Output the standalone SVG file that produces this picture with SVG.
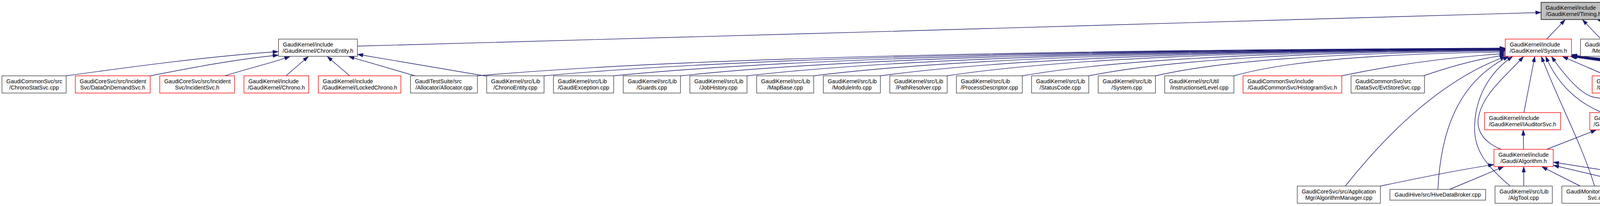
<svg xmlns="http://www.w3.org/2000/svg" width="7590" height="527" viewBox="0 0 7590 527">
<defs>
<style>
.n rect{fill:#ffffff;stroke:#404040;stroke-width:1.4}
.n.r rect{stroke:#ff0000}
.n.root rect{fill:#bfbfbf;stroke:#000000}
text{font-family:"Liberation Sans",Arial,Helvetica,sans-serif;font-size:14.3px;fill:#000000}
.m{text-anchor:middle}
#edges path{fill:none;stroke:#191970;stroke-width:1.4}
</style>
<marker id="ah" markerUnits="userSpaceOnUse" viewBox="0 0 14 10" refX="14" refY="5" markerWidth="14" markerHeight="10" orient="auto"><path d="M0.5,0.5 L14,5 L0.5,9.5 Z" fill="#191970" stroke="#191970" stroke-width="1"/></marker>
</defs>
<rect x="0" y="0" width="7590" height="527" fill="#ffffff"/>
<g id="edges" marker-end="url(#ah)">
<path d="M915.6,118 C1900,95 3000,55 3944.6,32"/>
<path d="M169.4,194 C348.8,169.2 533.6,144.4 712.2,132"/>
<path d="M384.5,194 C492.9,172.8 604.6,151.6 712.2,141"/>
<path d="M575.5,194 C625,178 700,160 742,144.7"/>
<path d="M732,194 L789,144.7"/>
<path d="M895.3,194 L838,144.7"/>
<path d="M1062.7,194 L893,144.7"/>
<path d="M1246,195 L915.6,139"/>
<path d="M3959.6,100 L4006.5,50.7"/>
<path d="M4098.4,100 L4051.4,50.7"/>
<path d="M4229,100 L4090.2,50.7"/>
<path d="M1222.2,194 C1748.3,147.85 2669,128 3852.8,123"/>
<path d="M1392.7,194 C1884.7,148.2 2745.7,128.4 3852.8,123.5"/>
<path d="M1571,194 C2027.4,148.5 2826,128.9 3852.8,124"/>
<path d="M1742,194 C2164.2,148.8 2903,129.4 3852.8,124.5"/>
<path d="M1912.4,194 C2300.5,149.15 2979.6,129.8 3852.8,125"/>
<path d="M2083,194 C2437,149.5 3056.4,130.3 3852.8,125.5"/>
<path d="M2253.7,194 C2573.5,149.8 3133.2,130.8 3852.8,126"/>
<path d="M2424.7,194 C2710.3,150.1 3210.2,131.2 3852.8,126.5"/>
<path d="M2617.1,194 C2864.2,150.45 3296.7,131.7 3852.8,127"/>
<path d="M2787.3,194 C3000.4,151.1 3373.3,132.6 3852.8,128"/>
<path d="M2958,194 C3137,152.4 3450.1,134.5 3852.8,130"/>
<path d="M3158.8,194 C3297.6,154.35 3540.5,137.3 3852.8,133"/>
<path d="M3434.9,194 C3559.6,167.6 3699.5,146.8 3852.8,137"/>
<path d="M3644,194 C3709.8,171.2 3780.4,150.9 3852.8,141"/>
<path d="M3444,476 C3560,330 3700,200 3854,144.7"/>
<path d="M3681,484.5 C3688,340 3730,210 3862,144.7"/>
<path d="M3866,476 C3800,420 3772,380 3775,320 C3778,240 3820,180 3872,144.7"/>
<path d="M3843,382 C3800,365 3778,335 3785,300 C3795,240 3860,190 3900,144.7"/>
<path d="M3901.2,288 L3929,144.7"/>
<path d="M4082,476 C4050,370 3990,260 3946,144.7"/>
<path d="M4101,288 C4040,262 3990,220 3957,144.7"/>
<path d="M4286,476 C4292,400 4285,300 4229,265 C4200,250 4120,260 4074,247 C4040,235 4000,185 3972,144.7"/>
<path d="M4114.7,194 L4000.4,144.7"/>
<path d="M4418,288 C4350,230 4300,175 4150,158 C4080,150 4040,146 4023.7,143"/>
<path d="M4498,476 C4560,410 4610,350 4595,300 C4580,250 4520,245 4460,254 C4400,262 4350,235 4300,200 C4230,160 4100,150 4023.7,144.2"/>
<path d="M4383.3,194 C4300,182 4150,165 4021,144.7"/>
<path d="M4619.8,194 C4560,178 4300,176 4023.7,144"/>
<path d="M4855.7,194 C4760,172 4350,178 4023.7,143.6"/>
<path d="M5091.8,194 C4992,174 4842,166 4592,166 C4400,166 4200,178 4023.7,143.3"/>
<path d="M5325.3,194 C5225,172 5075,165 4825,165 C4424,165 4200,180 4023.7,143"/>
<path d="M5559.2,194 C5459,172 5309,164 5059,164 C4541,164 4200,180 4023.7,142.6"/>
<path d="M5780.3,194 C5680,172 5530,163 5280,163 C4651.5,163 4200,180 4023.7,142.3"/>
<path d="M6021.1,194 C5921,172 5771,162 5521,162 C4772,162 4200,180 4023.7,142"/>
<path d="M6279.1,194 C6179,172 6029,161 5779,161 C4901,161 4200,180 4023.7,141.6"/>
<path d="M6493.3,194 C6393,172 6243,160.5 5993,160.5 C5008,160.5 4200,180 4023.7,141.3"/>
<path d="M6718.6,194 C6619,172 6469,160 6219,160 C5121,160 4200,180 4023.7,141"/>
<path d="M6890.4,194 C6790,172 6640,159.5 6390,159.5 C5206.5,159.5 4200,180 4023.7,140.6"/>
<path d="M7096.9,194 C6997,172 6847,159 6597,159 C5310,159 4200,180 4023.7,140.3"/>
<path d="M7267.6,194 C7168,172 7018,158 6768,158 C5395.5,158 4200,180 4023.7,140"/>
<path d="M7438.1,194 C7338,172 7188,157 6938,157 C5480.5,157 4200,180 4023.7,139.5"/>
<path d="M4159.6,288 L4163.7,238.7"/>
<path d="M4400,288 L4241,238.7"/>
<path d="M4292,476 C4318,380 4325,300 4247,238.7"/>
<path d="M3959.6,382 L4086,332.7"/>
<path d="M4098.4,476 L4145.3,332.7"/>
<path d="M3900.4,382 L3899.5,332.7"/>
<path d="M3533.7,476 C3620,458 3720,437 3823.8,421"/>
<path d="M3711,484.5 L3849,426.7"/>
<path d="M3900.8,476 L3900.8,426.7"/>
<path d="M4045.3,476 L3947.3,426.7"/>
<path d="M4206.5,477 L3977,423"/>
<path d="M4396,481 L3977,415"/>
<path d="M4471.2,476 L4471.2,332.7"/>
</g>
<g id="n_timing_h" class="n root"><rect x="3945.3" y="6" width="166.1" height="44"/><text x="3956.7" y="24.5">GaudiKernel/include</text><text class="m" x="4028.35" y="41">/GaudiKernel/Timing.h</text></g>
<g id="n_chronoentity_h" class="n"><rect x="712.9" y="100" width="202" height="44"/><text x="724.3" y="118.5">GaudiKernel/include</text><text class="m" x="813.9" y="135">/GaudiKernel/ChronoEntity.h</text></g>
<g id="n_system_h" class="n r"><rect x="3853.5" y="100" width="169.5" height="44"/><text x="3864.9" y="118.5">GaudiKernel/include</text><text class="m" x="3938.25" y="135">/GaudiKernel/System.h</text></g>
<g id="n_message_cpp" class="n"><rect x="4046.1" y="100" width="146.6" height="44"/><text x="4057.5" y="118.5">GaudiKernel/src/Lib</text><text class="m" x="4119.4" y="135">/Message.cpp</text></g>
<g id="n_timing_cpp" class="n"><rect x="4216.7" y="100" width="146.2" height="44"/><text x="4228.1" y="118.5">GaudiKernel/src/Lib</text><text class="m" x="4289.8" y="135">/Timing.cpp</text></g>
<g id="n_chronostatsvc_cpp" class="n"><rect x="4.9" y="194" width="164.5" height="44"/><text x="16.3" y="212.5">GaudiCommonSvc/src</text><text class="m" x="87.15" y="229">/ChronoStatSvc.cpp</text></g>
<g id="n_dataondemandsvc_h" class="n r"><rect x="192.7" y="194" width="191.8" height="44"/><text x="204.1" y="212.5">GaudiCoreSvc/src/Incident</text><text class="m" x="288.6" y="229">Svc/DataOnDemandSvc.h</text></g>
<g id="n_incidentsvc_h" class="n r"><rect x="409" y="194" width="191.4" height="44"/><text x="420.4" y="212.5">GaudiCoreSvc/src/Incident</text><text class="m" x="504.7" y="229">Svc/IncidentSvc.h</text></g>
<g id="n_chrono_h" class="n r"><rect x="624.5" y="194" width="165.9" height="44"/><text x="635.9" y="212.5">GaudiKernel/include</text><text class="m" x="707.45" y="229">/GaudiKernel/Chrono.h</text></g>
<g id="n_lockedchrono_h" class="n r"><rect x="814.9" y="194" width="211.4" height="44"/><text x="826.3" y="212.5">GaudiKernel/include</text><text class="m" x="920.6" y="229">/GaudiKernel/LockedChrono.h</text></g>
<g id="n_allocator_cpp" class="n"><rect x="1050.8" y="194" width="171.4" height="44"/><text x="1062.2" y="212.5">GaudiTestSuite/src</text><text class="m" x="1136.5" y="229">/Allocator/Allocator.cpp</text></g>
<g id="n_chronoentity_cpp" class="n"><rect x="1245.9" y="194" width="146.8" height="44"/><text x="1257.3" y="212.5">GaudiKernel/src/Lib</text><text class="m" x="1319.3" y="229">/ChronoEntity.cpp</text></g>
<g id="n_gaudiexception_cpp" class="n"><rect x="1416.7" y="194" width="154.3" height="44"/><text x="1428.1" y="212.5">GaudiKernel/src/Lib</text><text class="m" x="1493.85" y="229">/GaudiException.cpp</text></g>
<g id="n_guards_cpp" class="n"><rect x="1595.5" y="194" width="146.5" height="44"/><text x="1606.9" y="212.5">GaudiKernel/src/Lib</text><text class="m" x="1668.75" y="229">/Guards.cpp</text></g>
<g id="n_jobhistory_cpp" class="n"><rect x="1766" y="194" width="146.4" height="44"/><text x="1777.4" y="212.5">GaudiKernel/src/Lib</text><text class="m" x="1839.2" y="229">/JobHistory.cpp</text></g>
<g id="n_mapbase_cpp" class="n"><rect x="1937" y="194" width="146" height="44"/><text x="1948.4" y="212.5">GaudiKernel/src/Lib</text><text class="m" x="2010" y="229">/MapBase.cpp</text></g>
<g id="n_moduleinfo_cpp" class="n"><rect x="2107.6" y="194" width="146.1" height="44"/><text x="2119" y="212.5">GaudiKernel/src/Lib</text><text class="m" x="2180.65" y="229">/ModuleInfo.cpp</text></g>
<g id="n_pathresolver_cpp" class="n"><rect x="2277.8" y="194" width="146.9" height="44"/><text x="2289.2" y="212.5">GaudiKernel/src/Lib</text><text class="m" x="2351.25" y="229">/PathResolver.cpp</text></g>
<g id="n_processdescriptor_cpp" class="n"><rect x="2448.4" y="194" width="168.7" height="44"/><text x="2459.8" y="212.5">GaudiKernel/src/Lib</text><text class="m" x="2532.75" y="229">/ProcessDescriptor.cpp</text></g>
<g id="n_statuscode_cpp" class="n"><rect x="2640.8" y="194" width="146.5" height="44"/><text x="2652.2" y="212.5">GaudiKernel/src/Lib</text><text class="m" x="2714.05" y="229">/StatusCode.cpp</text></g>
<g id="n_system_cpp" class="n"><rect x="2811.4" y="194" width="146.6" height="44"/><text x="2822.8" y="212.5">GaudiKernel/src/Lib</text><text class="m" x="2884.7" y="229">/System.cpp</text></g>
<g id="n_instructionsetlevel_cpp" class="n"><rect x="2981.6" y="194" width="177.2" height="44"/><text x="2993" y="212.5">GaudiKernel/src/Util</text><text class="m" x="3070.2" y="229">/instructionsetLevel.cpp</text></g>
<g id="n_histogramsvc_h" class="n r"><rect x="3182.2" y="194" width="252.7" height="44"/><text x="3193.6" y="212.5">GaudiCommonSvc/include</text><text class="m" x="3308.55" y="229">/GaudiCommonSvc/HistogramSvc.h</text></g>
<g id="n_evtstoresvc_cpp" class="n"><rect x="3458.6" y="194" width="188.1" height="44"/><text x="3470" y="212.5">GaudiCommonSvc/src</text><text class="m" x="3552.65" y="229">/DataSvc/EvtStoreSvc.cpp</text></g>
<g id="n_iinterface_h" class="n r"><rect x="4075.9" y="194" width="182.5" height="44"/><text x="4087.3" y="212.5">GaudiKernel/include</text><text class="m" x="4167.15" y="229">/GaudiKernel/IInterface.h</text></g>
<g id="n_applicationmgr_cpp" class="n"><rect x="4383.3" y="194" width="213.2" height="44"/><text x="4394.7" y="212.5">GaudiCoreSvc/src/Application</text><text class="m" x="4489.9" y="229">Mgr/ApplicationMgr.cpp</text></g>
<g id="n_dllclassmanager_cpp" class="n"><rect x="4619.8" y="194" width="212.2" height="44"/><text x="4631.2" y="212.5">GaudiCoreSvc/src/Application</text><text class="m" x="4725.9" y="229">Mgr/DLLClassManager.cpp</text></g>
<g id="n_servicemanager_cpp" class="n"><rect x="4855.7" y="194" width="212.5" height="44"/><text x="4867.1" y="212.5">GaudiCoreSvc/src/Application</text><text class="m" x="4961.95" y="229">Mgr/ServiceManager.cpp</text></g>
<g id="n_joboptionssvc_cpp" class="n"><rect x="5091.8" y="194" width="209.4" height="44"/><text x="5103.2" y="212.5">GaudiCoreSvc/src/JobOptions</text><text class="m" x="5196.5" y="229">Svc/JobOptionsSvc.cpp</text></g>
<g id="n_utils_cpp" class="n"><rect x="5325.3" y="194" width="209.4" height="44"/><text x="5336.7" y="212.5">GaudiCoreSvc/src/JobOptions</text><text class="m" x="5430" y="229">Svc/Utils.cpp</text></g>
<g id="n_messagesvc_cpp" class="n"><rect x="5559.2" y="194" width="197.4" height="44"/><text x="5570.6" y="212.5">GaudiCoreSvc/src/Message</text><text class="m" x="5657.9" y="229">Svc/MessageSvc.cpp</text></g>
<g id="n_propertybase_h" class="n r"><rect x="5780.3" y="194" width="216.7" height="44"/><text x="5791.7" y="212.5">GaudiKernel/include</text><text class="m" x="5888.65" y="229">/Gaudi/Details/PropertyBase.h</text></g>
<g id="n_attribstringparser_h" class="n r"><rect x="6021.1" y="194" width="233.5" height="44"/><text x="6032.5" y="212.5">GaudiKernel/include</text><text class="m" x="6137.85" y="229">/GaudiKernel/AttribStringParser.h</text></g>
<g id="n_dllmain_icpp" class="n"><rect x="6279.1" y="194" width="189.3" height="44"/><text x="6290.5" y="212.5">GaudiKernel/include</text><text class="m" x="6373.75" y="229">/GaudiKernel/DllMain.icpp</text></g>
<g id="n_ntupleitems_h" class="n r"><rect x="6493.3" y="194" width="201.2" height="44"/><text x="6504.7" y="212.5">GaudiKernel/include</text><text class="m" x="6593.9" y="229">/GaudiKernel/NTupleItems.h</text></g>
<g id="n_conversionsvc_cpp" class="n"><rect x="6718.6" y="194" width="148.1" height="44"/><text x="6730" y="212.5">GaudiKernel/src/Lib</text><text class="m" x="6792.65" y="229">/ConversionSvc.cpp</text></g>
<g id="n_datahandleproperty_cpp" class="n"><rect x="6890.4" y="194" width="182.9" height="44"/><text x="6901.8" y="212.5">GaudiKernel/src/Lib</text><text class="m" x="6981.85" y="229">/DataHandleProperty.cpp</text></g>
<g id="n_datatypeinfo_cpp" class="n"><rect x="7096.9" y="194" width="146.1" height="44"/><text x="7108.3" y="212.5">GaudiKernel/src/Lib</text><text class="m" x="7169.95" y="229">/DataTypeInfo.cpp</text></g>
<g id="n_dictionary_cpp" class="n"><rect x="7267.6" y="194" width="146.5" height="44"/><text x="7279" y="212.5">GaudiKernel/src/Lib</text><text class="m" x="7340.85" y="229">/Dictionary.cpp</text></g>
<g id="n_environment_cpp" class="n"><rect x="7438.1" y="194" width="147" height="44"/><text x="7449.5" y="212.5">GaudiKernel/src/Lib</text><text class="m" x="7511.6" y="229">/Environment.cpp</text></g>
<g id="n_iauditorsvc_h" class="n r"><rect x="3800.4" y="288" width="194.7" height="44"/><text x="3811.8" y="306.5">GaudiKernel/include</text><text class="m" x="3897.75" y="323">/GaudiKernel/IAuditorSvc.h</text></g>
<g id="n_itoolsvc_h" class="n r"><rect x="4069.8" y="288" width="173.5" height="44"/><text x="4081.2" y="306.5">GaudiKernel/include</text><text class="m" x="4156.55" y="323">/GaudiKernel/IToolSvc.h</text></g>
<g id="n_gaudihandle_h" class="n r"><rect x="4369" y="288" width="204.3" height="44"/><text x="4380.4" y="306.5">GaudiKernel/include</text><text class="m" x="4471.15" y="323">/GaudiKernel/GaudiHandle.h</text></g>
<g id="n_algorithm_h" class="n r"><rect x="3824.5" y="382" width="151.8" height="44"/><text x="3835.9" y="400.5">GaudiKernel/include</text><text class="m" x="3900.4" y="417">/Gaudi/Algorithm.h</text></g>
<g id="n_algorithmmanager_cpp" class="n"><rect x="3321" y="476" width="212.7" height="44"/><text x="3332.4" y="494.5">GaudiCoreSvc/src/Application</text><text class="m" x="3427.35" y="511">Mgr/AlgorithmManager.cpp</text></g>
<g id="n_hivedatabroker_cpp" class="n"><rect x="3558.2" y="484.5" width="245.1" height="27.5"/><text class="m" x="3680.75" y="503">GaudiHive/src/HiveDataBroker.cpp</text></g>
<g id="n_algtool_cpp" class="n"><rect x="3827.3" y="476" width="146.6" height="44"/><text x="3838.7" y="494.5">GaudiKernel/src/Lib</text><text class="m" x="3900.6" y="511">/AlgTool.cpp</text></g>
<g id="n_historysvc_cpp" class="n"><rect x="3998.4" y="476" width="182.8" height="44"/><text x="4009.8" y="494.5">GaudiMonitor/src/History</text><text class="m" x="4089.8" y="511">Svc.cpp</text></g>
<g id="n_bootstrap_cpp" class="n"><rect x="4207.3" y="476" width="146.6" height="44"/><text x="4218.7" y="494.5">GaudiKernel/src/Lib</text><text class="m" x="4280.6" y="511">/Bootstrap.cpp</text></g>
<g id="n_genconf_cpp" class="n"><rect x="4395.9" y="476" width="150.4" height="44"/><text x="4407.3" y="494.5">GaudiKernel/src/Util</text><text class="m" x="4471.1" y="511">/genconf.cpp</text></g>
</svg>
